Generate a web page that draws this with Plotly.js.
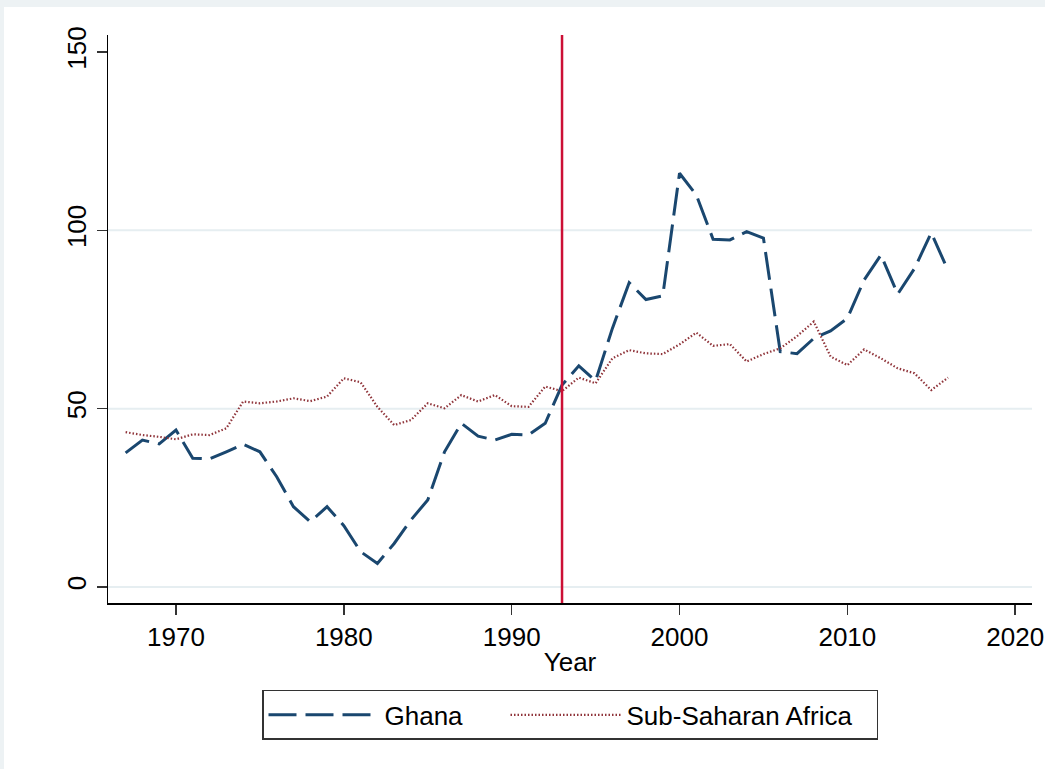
<!DOCTYPE html>
<html>
<head>
<meta charset="utf-8">
<script src="https://cdn.plot.ly/plotly-3.0.1.min.js"></script>
<style>
  html, body { margin: 0; padding: 0; background: #ffffff; }
  #wrap { width: 1041px; height: 762px; border-top: 7px solid #edf2f4; border-left: 4px solid #edf2f4; background: #fff; }
  #chart { width: 1041px; height: 762px; }
</style>
</head>
<body>
<div id="wrap"><div id="chart"></div></div>
<script>
const years = [1967,1968,1969,1970,1971,1972,1973,1974,1975,1976,1977,1978,1979,1980,
  1981,1982,1983,1984,1985,1986,1987,1988,1989,1990,1991,1992,1993,1994,1995,1996,
  1997,1998,1999,2000,2001,2002,2003,2004,2005,2006,2007,2008,2009,2010,2011,2012,
  2013,2014,2015,2016];

const ghana = [37.6,41.2,40.1,44.0,36.1,35.9,37.9,40.0,37.9,30.9,22.5,18.3,22.5,17.2,
  9.9,6.6,12.2,18.8,24.4,37.9,45.9,42.3,41.2,42.8,42.6,45.9,56.6,62.0,57.8,72.5,
  85.3,80.6,81.6,116.0,109.9,97.5,97.3,99.6,97.8,66.0,65.4,69.7,71.8,75.3,86.1,93.1,
  82.1,89.3,99.3,88.7];

const ssa = [43.4,42.6,42.1,41.4,42.8,42.6,44.5,52.0,51.5,52.0,52.9,52.1,53.4,58.5,
  57.4,50.5,45.4,46.8,51.5,50.1,53.8,52.0,53.8,50.7,50.5,56.2,54.9,58.7,57.1,64.1,
  66.4,65.5,65.3,68.0,71.3,67.6,68.1,63.2,65.3,66.9,70.3,74.4,64.6,62.2,66.6,64.1,
  61.3,59.9,55.2,58.7];

const seriesNames = ["Ghana", "Sub-Saharan Africa"];
const xTicks = [1970,1980,1990,2000,2010,2020];
const yTicks = [0,50,100,150];
const gridVals = [0,50,100];
const eventYear = 1993;

const FONT = "Liberation Sans, Arial, sans-serif";

const traces = [
  { x: years, y: ghana, name: seriesNames[0], type: "scatter", mode: "lines",
    legendwidth: 116,
    line: { color: "#1a476f", width: 3, dash: "28px,9px" } },
  { x: years, y: ssa, name: seriesNames[1], type: "scatter", mode: "lines",
    legendwidth: 245,
    line: { color: "#90353b", width: 2.2, dash: "1.5px,2px" } }
];

const shapes = gridVals.map(v => ({
  type: "line", xref: "paper", yref: "y", x0: 0, x1: 1, y0: v, y1: v,
  line: { color: "#e6eef1", width: 2 }, layer: "below"
}));
shapes.push({
  type: "line", xref: "x", yref: "paper", x0: eventYear, x1: eventYear, y0: 0, y1: 1,
  line: { color: "#cc0f35", width: 2.5 }, layer: "above"
});

const layout = {
  width: 1041, height: 762,
  paper_bgcolor: "#ffffff", plot_bgcolor: "#ffffff",
  font: { family: FONT, size: 26, color: "#000" },
  margin: { l: 104, r: 13, t: 28, b: 166 },
  showlegend: true,
  xaxis: {
    range: [1965.95, 2021.0],
    tickvals: xTicks, ticktext: xTicks.map(String),
    ticks: "outside", ticklen: 10, tickwidth: 1.5, tickcolor: "#333",
    showline: true, linecolor: "#000", linewidth: 1.5,
    showgrid: false, zeroline: false, ticklabeloverflow: "allow",
    tickfont: { family: FONT, size: 26, color: "#000" },
    title: { text: "Year", font: { family: FONT, size: 26, color: "#000" }, standoff: 2 }
  },
  yaxis: {
    range: [-4.49, 154.75],
    tickvals: yTicks, ticktext: yTicks.map(String),
    tickangle: -90,
    ticks: "outside", ticklen: 10, tickwidth: 1.5, tickcolor: "#333",
    showline: true, linecolor: "#000", linewidth: 1.5,
    showgrid: false, zeroline: false,
    tickfont: { family: FONT, size: 26, color: "#000" }
  },
  legend: {
    orientation: "h", x: 0.5, xanchor: "center", y: -0.153, yanchor: "top",
    bgcolor: "#fff", bordercolor: "#333", borderwidth: 1.5,
    font: { family: FONT, size: 26, color: "#000" },
    itemwidth: 111, tracegroupgap: 0
  },
  shapes: shapes
};

Plotly.newPlot("chart", traces, layout, { displayModeBar: false, staticPlot: true });
</script>
</body>
</html>
